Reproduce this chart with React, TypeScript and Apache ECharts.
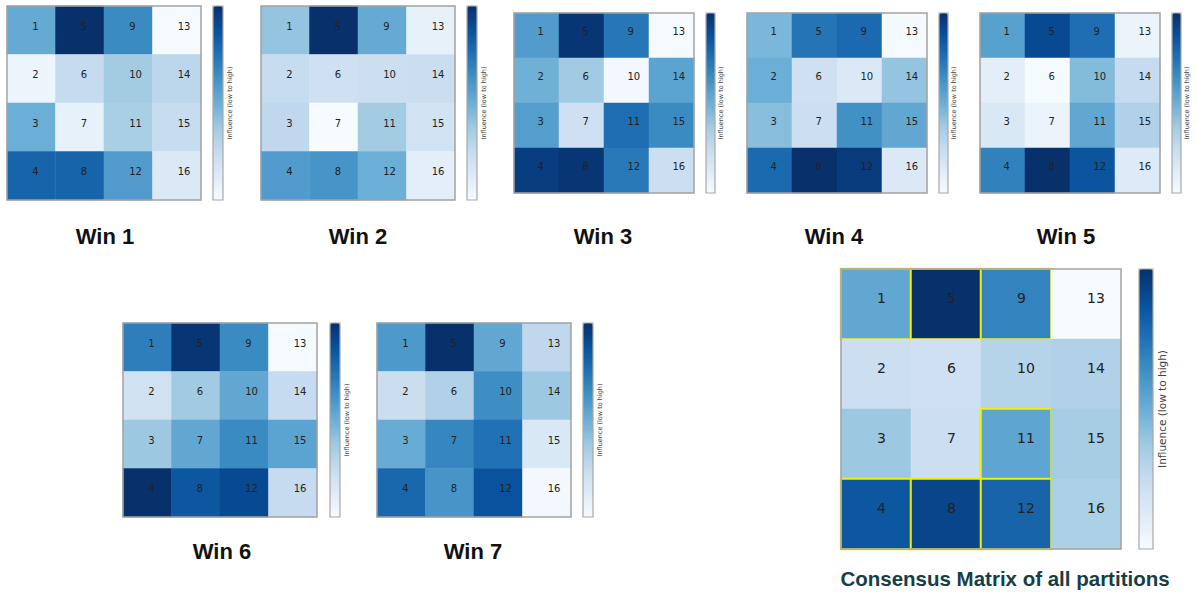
import React, { useEffect, useRef } from "react";
import * as echarts from "echarts";

// Cell ids (column-major, 4x4)
const cellIds = [1, 2, 3, 4, 5, 6, 7, 8, 9, 10, 11, 12, 13, 14, 15, 16];

// Influence values (0 = low, 1 = high), listed in cell-id order 1..16
const win1 = [0.52, 0.05, 0.5, 0.8, 1.0, 0.25, 0.08, 0.8, 0.65, 0.36, 0.34, 0.58, 0.01, 0.28, 0.24, 0.14];
const win2 = [0.4, 0.24, 0.27, 0.58, 1.0, 0.21, 0.0, 0.61, 0.52, 0.22, 0.36, 0.5, 0.08, 0.23, 0.19, 0.1];
const win3 = [0.58, 0.49, 0.57, 0.95, 0.98, 0.37, 0.21, 0.98, 0.73, 0.02, 0.76, 0.72, 0.01, 0.55, 0.65, 0.22];
const win4 = [0.46, 0.5, 0.43, 0.78, 0.74, 0.21, 0.22, 1.0, 0.78, 0.14, 0.63, 0.96, 0.01, 0.4, 0.53, 0.14];
const win5 = [0.56, 0.1, 0.15, 0.69, 0.9, 0.01, 0.06, 1.0, 0.76, 0.44, 0.53, 0.86, 0.06, 0.25, 0.32, 0.13];
const win6 = [0.7, 0.2, 0.38, 1.0, 0.98, 0.37, 0.53, 0.85, 0.65, 0.53, 0.65, 0.9, 0.01, 0.25, 0.55, 0.25];
const win7 = [0.59, 0.23, 0.51, 0.79, 1.0, 0.32, 0.67, 0.61, 0.53, 0.64, 0.75, 0.87, 0.27, 0.38, 0.15, 0.02];
const consensus = [0.53, 0.22, 0.38, 0.85, 1.0, 0.21, 0.22, 0.92, 0.68, 0.3, 0.54, 0.8, 0.01, 0.32, 0.35, 0.33];

// Cells outlined in yellow in the consensus matrix
const consensusHighlight = [1, 4, 5, 8, 9, 11, 12];

const panelTitles = ["Win 1", "Win 2", "Win 3", "Win 4", "Win 5", "Win 6", "Win 7", "Consensus Matrix of all partitions"];
const panelValues = [win1, win2, win3, win4, win5, win6, win7, consensus];
const colorbarLabel = "Influence (low to high)";

const BLUES = ["#f7fbff", "#deebf7", "#c6dbef", "#9ecae1", "#6baed6", "#4292c6", "#2171b5", "#08519c", "#08306b"];

// Layout (pixels)
type Layout = {
  x: number; y: number; size: number; cbX: number; cbW: number;
  titleX: number; titleY: number; numFont: number; cbFont: number; cbLabelX: number;
  titleFont: number; titleColor: string;
};
const layouts: Layout[] = [
  { x: 7, y: 6, size: 194, cbX: 213, cbW: 10, titleX: 105, titleY: 236, numFont: 10, cbFont: 6.5, cbLabelX: 230, titleFont: 22, titleColor: "#111" },
  { x: 261, y: 6, size: 194, cbX: 467, cbW: 10, titleX: 358, titleY: 236, numFont: 10, cbFont: 6.5, cbLabelX: 484, titleFont: 22, titleColor: "#111" },
  { x: 514, y: 13, size: 180, cbX: 706, cbW: 9, titleX: 603, titleY: 236, numFont: 10, cbFont: 6.5, cbLabelX: 721, titleFont: 22, titleColor: "#111" },
  { x: 747, y: 13, size: 180, cbX: 939, cbW: 9, titleX: 834, titleY: 236, numFont: 10, cbFont: 6.5, cbLabelX: 954, titleFont: 22, titleColor: "#111" },
  { x: 980, y: 13, size: 180, cbX: 1172, cbW: 9, titleX: 1066, titleY: 236, numFont: 10, cbFont: 6.5, cbLabelX: 1187, titleFont: 22, titleColor: "#111" },
  { x: 123, y: 323, size: 194, cbX: 330, cbW: 10, titleX: 222, titleY: 551, numFont: 10, cbFont: 6.5, cbLabelX: 347, titleFont: 22, titleColor: "#111" },
  { x: 377, y: 323, size: 194, cbX: 583, cbW: 10, titleX: 473, titleY: 551, numFont: 10, cbFont: 6.5, cbLabelX: 600, titleFont: 22, titleColor: "#111" },
  { x: 841, y: 269, size: 280, cbX: 1139, cbW: 14, titleX: 1005, titleY: 578, numFont: 14, cbFont: 10.5, cbLabelX: 1162, titleFont: 20.5, titleColor: "#173d45" },
];

const AXIS_CATS = ["0", "1", "2", "3"];

function buildOption() {
  const grid: any[] = [];
  const xAxis: any[] = [];
  const yAxis: any[] = [];
  const series: any[] = [];
  const visualMap: any[] = [];
  const graphic: any[] = [];

  panelValues.forEach((vals, i) => {
    const L = layouts[i];
    const isConsensus = i === 7;
    const cell = L.size / 4;
    grid.push({ left: L.x, top: L.y, width: L.size, height: L.size, containLabel: false });
    xAxis.push({ type: "category", gridIndex: i, data: AXIS_CATS, show: false });
    yAxis.push({ type: "category", gridIndex: i, data: AXIS_CATS, show: false, inverse: true });
    series.push({
      type: "heatmap",
      xAxisIndex: i,
      yAxisIndex: i,
      emphasis: { disabled: true },
      data: vals.map((v, k) => {
        const id = cellIds[k];
        const item: any = { value: [Math.floor(k / 4), k % 4, v], name: String(id) };
        if (isConsensus && consensusHighlight.includes(id)) {
          item.itemStyle = { borderColor: "#f0f000", borderWidth: 2 };
        }
        return item;
      }),
      label: {
        show: true,
        formatter: (p: any) => p.name,
        align: "left",
        offset: [1, -cell * 0.085],
        fontFamily: "DejaVu Sans",
        fontSize: L.numFont,
        color: "#222",
      },
    });
    visualMap.push({
      type: "continuous",
      seriesIndex: i,
      dimension: 2,
      min: 0,
      max: 1,
      inRange: { color: BLUES },
      show: true,
      orient: "vertical",
      left: L.cbX,
      top: L.y,
      itemWidth: L.cbW,
      itemHeight: L.size,
      calculable: false,
      hoverLink: false,
      padding: 0,
      text: null,
      showLabel: false,
    });
    // grid outline
    graphic.push({
      type: "rect",
      z: 100,
      shape: { x: L.x, y: L.y, width: L.size, height: L.size },
      style: { fill: null, stroke: "#a3a3a3", lineWidth: 1.5 },
      silent: true,
    });
    // colorbar outline
    graphic.push({
      type: "rect",
      z: 100,
      shape: { x: L.cbX, y: L.y, width: L.cbW, height: L.size },
      style: { fill: null, stroke: "#a8a8a8", lineWidth: 1.2 },
      silent: true,
    });
    // colorbar label
    graphic.push({
      type: "text",
      z: 100,
      x: L.cbLabelX,
      y: L.y + L.size / 2,
      rotation: Math.PI / 2,
      style: {
        text: colorbarLabel,
        fontFamily: "DejaVu Sans",
        fontSize: L.cbFont,
        fill: "#444",
        textAlign: "center",
        textVerticalAlign: "middle",
      },
      silent: true,
    });
    // panel title
    graphic.push({
      type: "text",
      z: 100,
      x: L.titleX,
      y: L.titleY,
      style: {
        text: panelTitles[i],
        fontFamily: "Liberation Sans",
        fontWeight: "bold",
        fontSize: L.titleFont,
        fill: L.titleColor,
        textAlign: "center",
        textVerticalAlign: "middle",
      },
      silent: true,
    });
  });

  return {
    animation: false,
    backgroundColor: "#ffffff",
    grid,
    xAxis,
    yAxis,
    visualMap,
    series,
    graphic,
  };
}

export default function App() {
  const ref = useRef<HTMLDivElement>(null);
  useEffect(() => {
    if (!ref.current) return;
    const chart = echarts.init(ref.current, null, { renderer: "svg" });
    chart.setOption(buildOption() as any);
    return () => chart.dispose();
  }, []);
  return (
    <div
      ref={ref}
      style={{ position: "absolute", left: 0, top: 0, width: 1198, height: 595, background: "#fff" }}
    />
  );
}
